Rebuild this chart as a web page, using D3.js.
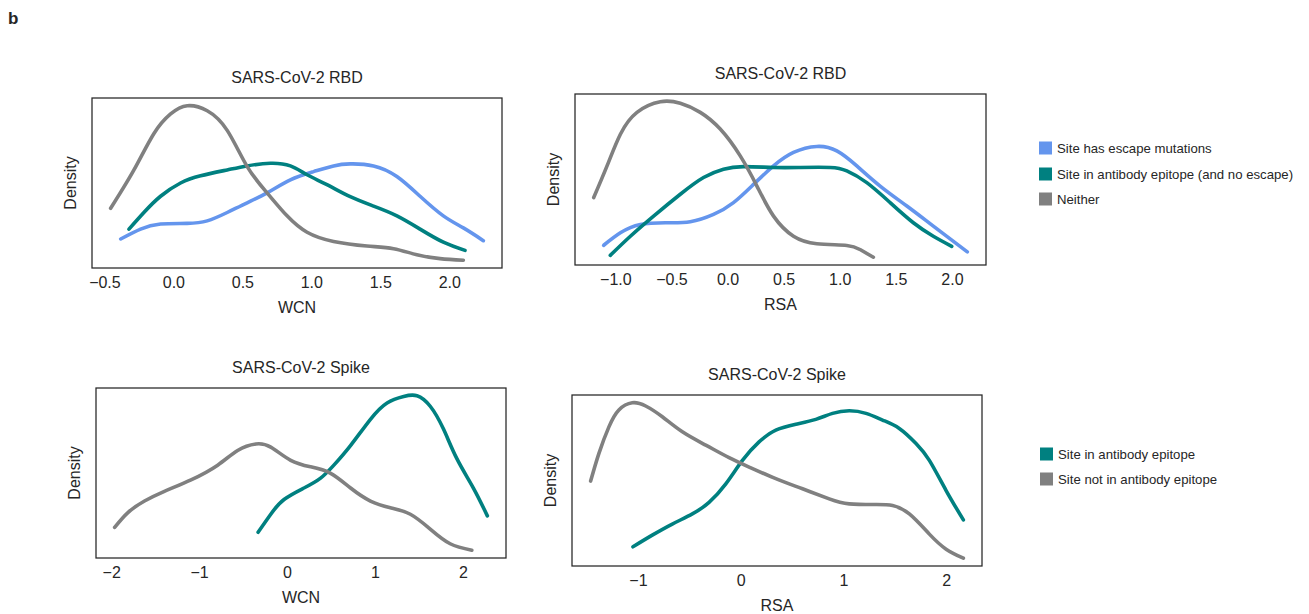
<!DOCTYPE html>
<html>
<head>
<meta charset="utf-8">
<script src="https://cdn.jsdelivr.net/npm/d3@7"></script>
<style>
  body { margin: 0; background: #fff; }
  text { font-family: "Liberation Sans", Arial, Helvetica, sans-serif; fill: #262626; }
</style>
</head>
<body>
<svg id="fig" width="1309" height="614"></svg>
<script>
// Kernel density curves, sampled as [value, density]

// SARS-CoV-2 RBD, WCN
const rbdWcnEscape = [[-0.382,0.176],[-0.238,0.235],[-0.093,0.265],[0.100,0.269],[0.245,0.284],[0.390,0.334],[0.535,0.392],[0.679,0.451],[0.848,0.529],[1.016,0.578],[1.161,0.612],[1.282,0.624],[1.451,0.612],[1.620,0.549],[1.788,0.431],[1.957,0.314],[2.102,0.242],[2.247,0.166]];
const rbdWcnEpitope = [[-0.322,0.235],[-0.214,0.334],[-0.093,0.431],[0.052,0.51],[0.197,0.553],[0.390,0.588],[0.535,0.612],[0.703,0.628],[0.848,0.612],[0.969,0.559],[1.113,0.5],[1.282,0.428],[1.451,0.372],[1.620,0.314],[1.788,0.235],[1.957,0.157],[2.114,0.108]];
const rbdWcnNeither = [[-0.455,0.359],[-0.286,0.588],[-0.142,0.804],[-0.020,0.922],[0.100,0.971],[0.245,0.941],[0.390,0.824],[0.535,0.608],[0.679,0.451],[0.824,0.314],[0.969,0.216],[1.161,0.161],[1.403,0.134],[1.596,0.118],[1.765,0.082],[1.933,0.059],[2.102,0.049]];

// SARS-CoV-2 RBD, RSA
const rbdRsaEscape = [[-1.104,0.125],[-0.955,0.198],[-0.777,0.247],[-0.54,0.257],[-0.332,0.263],[-0.125,0.306],[0.053,0.375],[0.232,0.482],[0.41,0.59],[0.588,0.669],[0.796,0.704],[0.974,0.678],[1.152,0.59],[1.36,0.472],[1.598,0.355],[1.834,0.237],[2.137,0.086]];
const rbdRsaEpitope = [[-1.045,0.066],[-0.866,0.178],[-0.659,0.296],[-0.421,0.424],[-0.214,0.522],[-0.036,0.571],[0.142,0.586],[0.41,0.581],[0.647,0.581],[0.915,0.581],[1.063,0.561],[1.241,0.492],[1.449,0.375],[1.656,0.257],[1.834,0.178],[1.998,0.119]];
const rbdRsaNeither = [[-1.193,0.404],[-1.074,0.59],[-0.955,0.776],[-0.807,0.904],[-0.599,0.966],[-0.421,0.957],[-0.243,0.904],[-0.065,0.806],[0.113,0.649],[0.262,0.472],[0.41,0.296],[0.588,0.178],[0.796,0.134],[1.063,0.124],[1.181,0.1],[1.3,0.055]];

// SARS-CoV-2 Spike, WCN
const spikeWcnEpitope = [[-0.329,0.147],[-0.185,0.255],[-0.034,0.343],[0.193,0.412],[0.382,0.471],[0.533,0.549],[0.722,0.666],[0.949,0.824],[1.138,0.922],[1.327,0.961],[1.478,0.965],[1.629,0.902],[1.78,0.765],[1.932,0.588],[2.12,0.412],[2.279,0.245]];
const spikeWcnOther = [[-1.961,0.176],[-1.81,0.265],[-1.621,0.334],[-1.395,0.392],[-1.092,0.461],[-0.789,0.549],[-0.562,0.637],[-0.355,0.676],[-0.185,0.657],[0.042,0.578],[0.269,0.539],[0.496,0.5],[0.723,0.412],[0.949,0.334],[1.176,0.294],[1.403,0.255],[1.629,0.166],[1.856,0.078],[2.102,0.039]];

// SARS-CoV-2 Spike, RSA
const spikeRsaEpitope = [[-1.049,0.124],[-0.861,0.192],[-0.666,0.257],[-0.471,0.316],[-0.308,0.384],[-0.145,0.492],[0.017,0.629],[0.179,0.737],[0.342,0.806],[0.537,0.841],[0.732,0.869],[0.894,0.904],[1.057,0.919],[1.22,0.904],[1.381,0.865],[1.544,0.816],[1.707,0.728],[1.837,0.629],[2.0,0.453],[2.168,0.281]];
const spikeRsaOther = [[-1.461,0.508],[-1.381,0.669],[-1.283,0.825],[-1.186,0.924],[-1.056,0.966],[-0.925,0.947],[-0.763,0.884],[-0.568,0.796],[-0.34,0.718],[-0.113,0.645],[0.082,0.59],[0.342,0.522],[0.602,0.463],[0.862,0.404],[1.057,0.375],[1.317,0.371],[1.479,0.365],[1.642,0.316],[1.837,0.198],[2.0,0.11],[2.168,0.057]];

// Tick values
const ticksRbdWcn = [-0.5, 0, 0.5, 1, 1.5, 2];
const ticksRbdRsa = [-1, -0.5, 0, 0.5, 1, 1.5, 2];
const ticksSpikeWcn = [-2, -1, 0, 1, 2];
const ticksSpikeRsa = [-1, 0, 1, 2];

// Legend categories
const rbdCategories = ["Site has escape mutations", "Site in antibody epitope (and no escape)", "Neither"];
const spikeCategories = ["Site in antibody epitope", "Site not in antibody epitope"];

const COLORS = { escape: "#6495ED", epitope: "#008080", other: "#808080" };
const INK = "#262626";
const FONT = "16px";
const fmtMinus = s => s.replace("-", "\u2212");

const svg = d3.select("#fig");

// panel letter
svg.append("text").attr("x", 8).attr("y", 24)
  .style("font-size", "17px").style("font-weight", "bold").text("b");

const panels = [
  { title: "SARS-CoV-2 RBD", xlab: "WCN", box: [92, 98, 502, 268], ticks: ticksRbdWcn, fmt: d3.format(".1f"),
    series: [[rbdWcnEscape, COLORS.escape], [rbdWcnEpitope, COLORS.epitope], [rbdWcnNeither, COLORS.other]] },
  { title: "SARS-CoV-2 RBD", xlab: "RSA", box: [575, 94, 986, 265], ticks: ticksRbdRsa, fmt: d3.format(".1f"),
    series: [[rbdRsaEscape, COLORS.escape], [rbdRsaEpitope, COLORS.epitope], [rbdRsaNeither, COLORS.other]] },
  { title: "SARS-CoV-2 Spike", xlab: "WCN", box: [96, 388, 506, 558], ticks: ticksSpikeWcn, fmt: d3.format("d"),
    series: [[spikeWcnEpitope, COLORS.epitope], [spikeWcnOther, COLORS.other]] },
  { title: "SARS-CoV-2 Spike", xlab: "RSA", box: [572, 395, 982, 566], ticks: ticksSpikeRsa, fmt: d3.format("d"),
    series: [[spikeRsaEpitope, COLORS.epitope], [spikeRsaOther, COLORS.other]] }
];

// 5% margin around the data extent, as in matplotlib autoscaling
function padded(vals) {
  const [lo, hi] = d3.extent(vals);
  const m = (hi - lo) * 0.05;
  return [lo - m, hi + m];
}

panels.forEach((p, idx) => {
  const [x0, y0, x1, y1] = p.box;
  const all = p.series.flatMap(s => s[0]);
  const x = d3.scaleLinear().domain(padded(all.map(d => d[0]))).range([x0, x1]);
  const y = d3.scaleLinear().domain(padded(all.map(d => d[1]))).range([y1, y0]);
  const g = svg.append("g");

  // clip to the axes box
  const cid = "clip" + idx;
  g.append("clipPath").attr("id", cid).append("rect")
    .attr("x", x0).attr("y", y0).attr("width", x1 - x0).attr("height", y1 - y0);

  const line = d3.line().x(d => x(d[0])).y(d => y(d[1])).curve(d3.curveNatural);
  const lines = g.append("g").attr("clip-path", `url(#${cid})`);
  p.series.forEach(([data, col]) => {
    lines.append("path").datum(data).attr("d", line)
      .attr("fill", "none").attr("stroke", col).attr("stroke-width", 3.6)
      .attr("stroke-linecap", "round").attr("stroke-linejoin", "round");
  });

  // x axis labels without tick marks
  const ax = d3.axisBottom(x).tickValues(p.ticks).tickSize(0).tickPadding(0)
    .tickFormat(d => fmtMinus(p.fmt(d)));
  const axg = g.append("g").attr("transform", `translate(0,${y1})`).call(ax);
  axg.select(".domain").remove();
  axg.selectAll("text").attr("y", 20).attr("dy", null)
    .style("font-size", FONT).style("font-family", "'Liberation Sans', Arial, sans-serif").attr("fill", INK);

  // frame
  g.append("rect").attr("x", x0).attr("y", y0).attr("width", x1 - x0).attr("height", y1 - y0)
    .attr("fill", "none").attr("stroke", INK).attr("stroke-width", 1.25);

  g.append("text").attr("x", (x0 + x1) / 2).attr("y", y0 - 15).attr("text-anchor", "middle")
    .style("font-size", FONT).text(p.title);
  g.append("text").attr("x", (x0 + x1) / 2).attr("y", y1 + 45).attr("text-anchor", "middle")
    .style("font-size", FONT).text(p.xlab);
  g.append("text").attr("transform", `translate(${x0 - 16},${(y0 + y1) / 2}) rotate(-90)`)
    .attr("text-anchor", "middle").style("font-size", FONT).text("Density");
});

// legends
function legend(items, colors, lx, ys) {
  const lg = svg.append("g");
  items.forEach((name, i) => {
    lg.append("rect").attr("x", lx).attr("y", ys[i] - 6.5).attr("width", 13).attr("height", 13).attr("fill", colors[i]);
    lg.append("text").attr("x", lx + 18).attr("y", ys[i]).attr("dy", "0.35em")
      .style("font-size", "13.2px").text(name);
  });
}
legend(rbdCategories, [COLORS.escape, COLORS.epitope, COLORS.other], 1039, [148, 174, 199]);
legend(spikeCategories, [COLORS.epitope, COLORS.other], 1040, [454, 479]);
</script>
</body>
</html>
